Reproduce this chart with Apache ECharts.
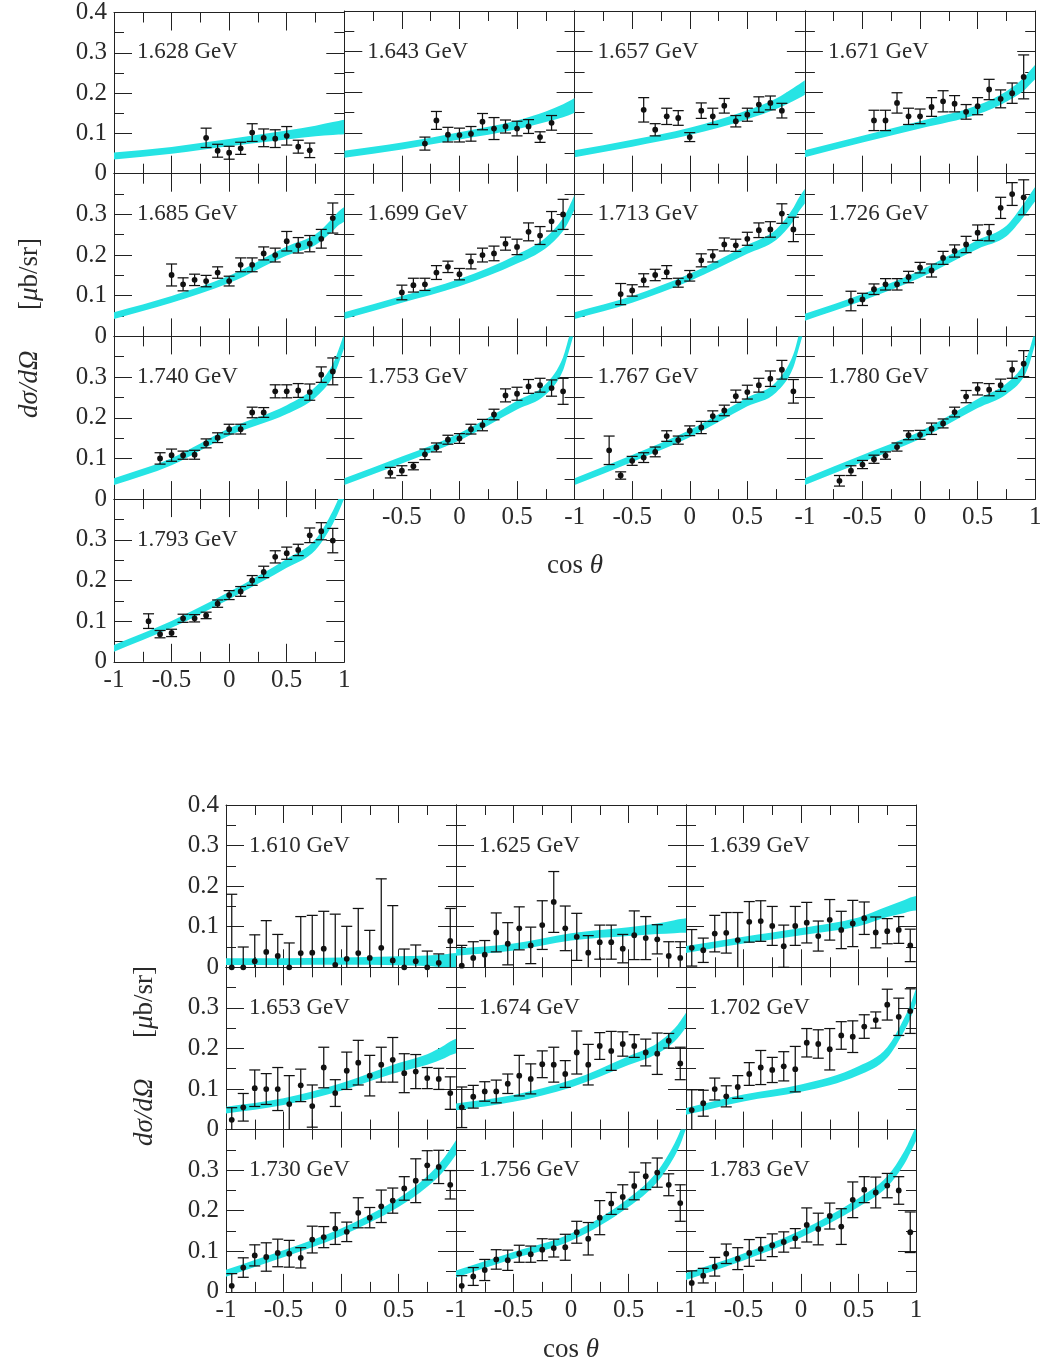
<!DOCTYPE html>
<html><head><meta charset="utf-8">
<script src="https://cdn.jsdelivr.net/npm/echarts@6/dist/echarts.min.js"></script>
<style>html,body{margin:0;padding:0;background:#fff}#c{width:1049px;height:1369px}</style>
</head><body><div id="c"></div>
<script>
// ---------------- DATA ----------------
// Top figure: points (cos theta), values (mub/sr), symmetric errors
const X_1628 = [-0.2,-0.1,0,0.1,0.2,0.3,0.4,0.5,0.6,0.7];
const Y_1628 = [0.089,0.057,0.052,0.063,0.102,0.089,0.087,0.094,0.067,0.058];
const E_1628 = [0.024,0.016,0.016,0.015,0.022,0.022,0.022,0.023,0.016,0.018];

const X_1643 = [-0.3,-0.2,-0.1,0,0.1,0.2,0.3,0.4,0.5,0.6,0.7,0.8];
const Y_1643 = [0.074,0.131,0.096,0.095,0.098,0.128,0.111,0.116,0.111,0.116,0.090,0.125];
const E_1643 = [0.016,0.022,0.018,0.017,0.018,0.020,0.027,0.016,0.018,0.017,0.013,0.018];

const X_1657 = [-0.4,-0.3,-0.2,-0.1,0,0.1,0.2,0.3,0.4,0.5,0.6,0.7,0.8];
const Y_1657 = [0.157,0.108,0.141,0.137,0.090,0.155,0.141,0.167,0.129,0.145,0.170,0.174,0.155];
const E_1657 = [0.030,0.015,0.020,0.018,0.011,0.019,0.020,0.018,0.014,0.016,0.019,0.017,0.018];

const X_1671 = [-0.4,-0.3,-0.2,-0.1,0,0.1,0.2,0.3,0.4,0.5,0.6,0.7,0.8,0.9];
const Y_1671 = [0.131,0.131,0.174,0.141,0.141,0.164,0.178,0.172,0.152,0.166,0.207,0.184,0.198,0.238];
const E_1671 = [0.025,0.025,0.025,0.020,0.018,0.023,0.026,0.020,0.018,0.021,0.025,0.022,0.025,0.054];

const X_1685 = [-0.5,-0.4,-0.3,-0.2,-0.1,0,0.1,0.2,0.3,0.4,0.5,0.6,0.7,0.8,0.9];
const Y_1685 = [0.151,0.128,0.139,0.136,0.157,0.136,0.176,0.176,0.204,0.200,0.234,0.224,0.228,0.240,0.291];
const E_1685 = [0.027,0.016,0.014,0.014,0.014,0.012,0.017,0.017,0.016,0.017,0.024,0.019,0.020,0.023,0.037];

const X_1699 = [-0.5,-0.4,-0.3,-0.2,-0.1,0,0.1,0.2,0.3,0.4,0.5,0.6,0.7,0.8,0.9];
const Y_1699 = [0.108,0.126,0.128,0.157,0.171,0.153,0.184,0.200,0.204,0.228,0.220,0.257,0.248,0.283,0.300];
const E_1699 = [0.018,0.017,0.015,0.017,0.014,0.014,0.018,0.017,0.018,0.016,0.019,0.022,0.022,0.024,0.037];

const X_1713 = [-0.6,-0.5,-0.4,-0.3,-0.2,-0.1,0,0.1,0.2,0.3,0.4,0.5,0.6,0.7,0.8,0.9];
const Y_1713 = [0.104,0.113,0.138,0.151,0.158,0.132,0.149,0.187,0.198,0.226,0.224,0.240,0.261,0.263,0.302,0.263];
const E_1713 = [0.026,0.014,0.016,0.014,0.016,0.011,0.013,0.016,0.015,0.016,0.015,0.016,0.018,0.019,0.024,0.030];

const X_1726 = [-0.6,-0.5,-0.4,-0.3,-0.2,-0.1,0,0.1,0.2,0.3,0.4,0.5,0.6,0.7,0.8,0.9];
const Y_1726 = [0.087,0.091,0.116,0.128,0.128,0.146,0.169,0.162,0.193,0.210,0.226,0.255,0.255,0.316,0.350,0.342];
const E_1726 = [0.024,0.015,0.013,0.014,0.014,0.014,0.013,0.016,0.016,0.015,0.020,0.019,0.020,0.026,0.028,0.043];

const X_1740 = [-0.6,-0.5,-0.4,-0.3,-0.2,-0.1,0,0.1,0.2,0.3,0.4,0.5,0.6,0.7,0.8,0.9];
const Y_1740 = [0.100,0.108,0.108,0.109,0.137,0.151,0.172,0.172,0.213,0.213,0.265,0.265,0.267,0.263,0.306,0.314];
const E_1740 = [0.014,0.015,0.010,0.011,0.011,0.012,0.012,0.012,0.013,0.012,0.016,0.016,0.017,0.020,0.019,0.033];

const X_1753 = [-0.6,-0.5,-0.4,-0.3,-0.2,-0.1,0,0.1,0.2,0.3,0.4,0.5,0.6,0.7,0.8,0.9];
const Y_1753 = [0.065,0.070,0.081,0.110,0.127,0.146,0.149,0.172,0.182,0.208,0.255,0.259,0.277,0.280,0.273,0.265];
const E_1753 = [0.013,0.012,0.009,0.013,0.011,0.011,0.012,0.012,0.014,0.013,0.016,0.016,0.017,0.017,0.020,0.032];

const X_1767 = [-0.7,-0.6,-0.5,-0.4,-0.3,-0.2,-0.1,0,0.1,0.2,0.3,0.4,0.5,0.6,0.7,0.8,0.9];
const Y_1767 = [0.120,0.058,0.094,0.102,0.116,0.155,0.145,0.168,0.176,0.204,0.218,0.253,0.263,0.280,0.296,0.318,0.265];
const E_1767 = [0.035,0.009,0.011,0.012,0.012,0.013,0.010,0.012,0.015,0.013,0.013,0.015,0.017,0.017,0.019,0.023,0.029];

const X_1780 = [-0.7,-0.6,-0.5,-0.4,-0.3,-0.2,-0.1,0,0.1,0.2,0.3,0.4,0.5,0.6,0.7,0.8,0.9];
const Y_1780 = [0.045,0.070,0.085,0.098,0.107,0.128,0.157,0.158,0.173,0.186,0.214,0.252,0.271,0.269,0.280,0.318,0.333];
const E_1780 = [0.013,0.012,0.010,0.010,0.009,0.010,0.011,0.011,0.014,0.011,0.012,0.015,0.015,0.015,0.015,0.021,0.032];

const X_1793 = [-0.7,-0.6,-0.5,-0.4,-0.3,-0.2,-0.1,0,0.1,0.2,0.3,0.4,0.5,0.6,0.7,0.8,0.9];
const Y_1793 = [0.100,0.068,0.071,0.107,0.107,0.114,0.143,0.164,0.173,0.200,0.221,0.258,0.267,0.275,0.311,0.321,0.298];
const E_1793 = [0.018,0.009,0.009,0.010,0.009,0.008,0.009,0.011,0.012,0.012,0.014,0.015,0.015,0.014,0.018,0.021,0.030];

// Bottom figure: common cos theta bins
const X_BOTTOM = [-0.95,-0.85,-0.75,-0.65,-0.55,-0.45,-0.35,-0.25,-0.15,-0.05,0.05,0.15,0.25,0.35,0.45,0.55,0.65,0.75,0.85,0.95];
const Y_1610 = [0.000,0.000,0.015,0.038,0.028,0.000,0.035,0.036,0.046,0.006,0.021,0.035,0.023,0.048,0.017,0.000,0.015,0.000,0.011,0.065];
const E_1610 = [0.180,0.050,0.065,0.077,0.053,0.060,0.090,0.092,0.092,0.125,0.080,0.110,0.068,0.170,0.135,0.045,0.040,0.040,0.022,0.080];
const Y_1625 = [0.004,0.023,0.031,0.086,0.058,0.096,0.054,0.104,0.161,0.096,0.075,0.036,0.062,0.062,0.046,0.079,0.072,0.069,0.028,0.023];
const E_1625 = [0.050,0.040,0.035,0.048,0.052,0.053,0.045,0.060,0.075,0.055,0.058,0.042,0.042,0.042,0.035,0.060,0.053,0.036,0.035,0.040];
const Y_1639 = [0.048,0.042,0.083,0.085,0.067,0.112,0.114,0.102,0.052,0.102,0.110,0.077,0.117,0.092,0.108,0.121,0.086,0.089,0.092,0.054];
const E_1639 = [0.045,0.030,0.045,0.050,0.068,0.050,0.050,0.048,0.052,0.048,0.050,0.037,0.050,0.046,0.057,0.040,0.038,0.031,0.033,0.040];
const Y_1653 = [0.024,0.055,0.102,0.100,0.100,0.063,0.109,0.058,0.153,0.090,0.145,0.165,0.133,0.160,0.172,0.139,0.143,0.127,0.125,0.090];
const E_1653 = [0.030,0.034,0.045,0.038,0.053,0.070,0.040,0.052,0.050,0.033,0.046,0.055,0.050,0.043,0.055,0.048,0.042,0.026,0.026,0.040];
const Y_1674 = [0.055,0.081,0.094,0.094,0.113,0.133,0.125,0.161,0.160,0.137,0.190,0.160,0.206,0.194,0.211,0.206,0.190,0.187,0.219,0.163];
const E_1674 = [0.050,0.028,0.024,0.028,0.024,0.050,0.037,0.033,0.043,0.033,0.053,0.050,0.033,0.048,0.030,0.028,0.033,0.051,0.018,0.040];
const Y_1702 = [0.048,0.065,0.100,0.082,0.105,0.137,0.153,0.147,0.156,0.149,0.214,0.211,0.198,0.232,0.229,0.254,0.270,0.308,0.278,0.292];
const E_1702 = [0.050,0.032,0.027,0.026,0.028,0.028,0.042,0.031,0.036,0.056,0.035,0.035,0.051,0.034,0.039,0.029,0.020,0.038,0.046,0.055];
const Y_1730 = [0.015,0.060,0.090,0.086,0.096,0.094,0.084,0.129,0.135,0.156,0.148,0.195,0.183,0.211,0.225,0.255,0.274,0.312,0.308,0.264];
const E_1730 = [0.030,0.024,0.026,0.035,0.034,0.033,0.025,0.033,0.026,0.039,0.024,0.037,0.025,0.040,0.031,0.029,0.054,0.036,0.041,0.035];
const Y_1756 = [0.015,0.038,0.054,0.080,0.078,0.094,0.093,0.104,0.108,0.110,0.147,0.131,0.183,0.218,0.234,0.261,0.285,0.294,0.264,0.219];
const E_1756 = [0.025,0.022,0.026,0.024,0.025,0.021,0.020,0.027,0.022,0.032,0.027,0.040,0.042,0.027,0.030,0.034,0.033,0.036,0.027,0.045];
const Y_1783 = [0.022,0.040,0.062,0.094,0.082,0.096,0.106,0.115,0.123,0.132,0.165,0.155,0.187,0.161,0.227,0.252,0.245,0.262,0.250,0.147];
const E_1783 = [0.030,0.018,0.023,0.024,0.027,0.033,0.028,0.028,0.025,0.024,0.042,0.039,0.032,0.044,0.044,0.032,0.038,0.030,0.034,0.050];

// Model bands (centre values at BAND_X, half-width BAND_HW)
const BAND_X  = [-1,-0.5,0,0.5,0.75,0.9,0.95,1];
const BAND_HW = [0.0085,0.0085,0.009,0.011,0.013,0.016,0.017,0.018];
const B_1628 = [0.044,0.058,0.077,0.096,0.106,0.112,0.114,0.116];
const B_1643 = [0.048,0.068,0.093,0.120,0.140,0.155,0.161,0.168];
const B_1657 = [0.049,0.075,0.104,0.145,0.172,0.195,0.203,0.212];
const B_1671 = [0.049,0.085,0.120,0.157,0.190,0.220,0.235,0.250];
const B_1685 = [0.051,0.091,0.140,0.210,0.238,0.275,0.290,0.300];
const B_1699 = [0.051,0.091,0.132,0.190,0.230,0.275,0.300,0.330];
const B_1713 = [0.051,0.091,0.145,0.214,0.250,0.300,0.325,0.345];
const B_1726 = [0.047,0.096,0.153,0.226,0.259,0.310,0.330,0.350];
const B_1740 = [0.043,0.092,0.165,0.220,0.263,0.316,0.350,0.390];
const B_1753 = [0.043,0.096,0.153,0.231,0.270,0.333,0.380,0.430];
const B_1767 = [0.043,0.100,0.161,0.239,0.275,0.340,0.390,0.440];
const B_1780 = [0.043,0.100,0.157,0.235,0.271,0.316,0.350,0.400];
const B_1793 = [0.033,0.092,0.163,0.242,0.288,0.355,0.385,0.420];
const B_1610 = [0.014,0.014,0.015,0.016,0.016,0.016,0.017,0.017];
const B_1625 = [0.037,0.050,0.075,0.088,0.095,0.100,0.102,0.103];
const B_1639 = [0.044,0.067,0.088,0.112,0.137,0.150,0.155,0.158];
const B_1653 = [0.048,0.069,0.105,0.153,0.173,0.192,0.200,0.206];
const B_1674 = [0.056,0.077,0.113,0.170,0.200,0.233,0.250,0.270];
const B_1702 = [0.045,0.078,0.102,0.145,0.190,0.260,0.290,0.330];
const B_1730 = [0.046,0.094,0.147,0.220,0.272,0.316,0.335,0.356];
const B_1756 = [0.044,0.090,0.135,0.220,0.284,0.350,0.380,0.420];
const B_1783 = [0.038,0.086,0.143,0.220,0.272,0.332,0.360,0.390];

const TOP_LABELS = ['1.628 GeV','1.643 GeV','1.657 GeV','1.671 GeV','1.685 GeV','1.699 GeV','1.713 GeV','1.726 GeV','1.740 GeV','1.753 GeV','1.767 GeV','1.780 GeV','1.793 GeV'];
const BOTTOM_LABELS = ['1.610 GeV','1.625 GeV','1.639 GeV','1.653 GeV','1.674 GeV','1.702 GeV','1.730 GeV','1.756 GeV','1.783 GeV'];

const TOP_DATA = [
  [X_1628,Y_1628,E_1628,B_1628],[X_1643,Y_1643,E_1643,B_1643],[X_1657,Y_1657,E_1657,B_1657],[X_1671,Y_1671,E_1671,B_1671],
  [X_1685,Y_1685,E_1685,B_1685],[X_1699,Y_1699,E_1699,B_1699],[X_1713,Y_1713,E_1713,B_1713],[X_1726,Y_1726,E_1726,B_1726],
  [X_1740,Y_1740,E_1740,B_1740],[X_1753,Y_1753,E_1753,B_1753],[X_1767,Y_1767,E_1767,B_1767],[X_1780,Y_1780,E_1780,B_1780],
  [X_1793,Y_1793,E_1793,B_1793]
];
const BOTTOM_DATA = [
  [X_BOTTOM,Y_1610,E_1610,B_1610],[X_BOTTOM,Y_1625,E_1625,B_1625],[X_BOTTOM,Y_1639,E_1639,B_1639],
  [X_BOTTOM,Y_1653,E_1653,B_1653],[X_BOTTOM,Y_1674,E_1674,B_1674],[X_BOTTOM,Y_1702,E_1702,B_1702],
  [X_BOTTOM,Y_1730,E_1730,B_1730],[X_BOTTOM,Y_1756,E_1756,B_1756],[X_BOTTOM,Y_1783,E_1783,B_1783]
];

// ---------------- STYLE / LAYOUT ----------------
const FONT = '"Liberation Serif","DejaVu Serif",serif';
const TEXT = '#2a2a2a';
const AX = '#222';
const BAND_COLOR = '#26e4e4';
const FS_TICK = 25;
const FS_LAB = 23;
const FS_TITLE = 27;

const TOP_BOX = {left:114, top:11, w:230.3, h:162.7, cols:4};
const BOT_BOX = {left:226, top:805, w:230, h:162.3, cols:3};

const grids=[], xAxes=[], yAxes=[], series=[], graphics=[];

function xLabelFmt(showMin, showMax){
  return function(v){
    const k = Math.round(v*100);
    if (k === -100 && !showMin) return '';
    if (k === 100 && !showMax) return '';
    return String(k/100);
  };
}
function yLabelFmt(show04){
  return function(v){
    const k = Math.round(v*100);
    if (k === 40 && !show04) return '';
    return String(k/100);
  };
}
function axisBase(gi, pos, isX){
  return {
    type:'value', gridIndex:gi, position:pos,
    min: isX ? -1 : 0, max: isX ? 1 : 0.4, interval: isX ? 0.5 : 0.1,
    axisLine:{show:true, onZero:false, lineStyle:{color:AX, width:1}},
    axisTick:{show:true, inside:true, length:18, lineStyle:{color:AX, width:1}},
    minorTick:{show:true, splitNumber:2, length:10, lineStyle:{color:AX, width:1}},
    splitLine:{show:false}, minorSplitLine:{show:false},
    axisLabel:{show:false}
  };
}

function errRender(params, api){
  const x = api.value(0), y = api.value(1), e = api.value(2);
  const cs = params.coordSys;
  const p = api.coord([x,y]);
  const hi = api.coord([x,y+e])[1], lo = api.coord([x,y-e])[1];
  const top = cs.y, bot = cs.y + cs.height;
  const cap = 5.5;
  const st = {stroke:'#111', lineWidth:1.25};
  const ch = [];
  const hiC = Math.max(hi, top), loC = Math.min(lo, bot);
  ch.push({type:'line', shape:{x1:p[0], y1:hiC, x2:p[0], y2:loC}, style:st});
  if (hi >= top) ch.push({type:'line', shape:{x1:p[0]-cap, y1:hi, x2:p[0]+cap, y2:hi}, style:st});
  if (lo <= bot) ch.push({type:'line', shape:{x1:p[0]-cap, y1:lo, x2:p[0]+cap, y2:lo}, style:st});
  ch.push({type:'circle', shape:{cx:p[0], cy:Math.min(p[1], bot), r:2.9}, style:{fill:'#111'}});
  return {type:'group', children:ch};
}

// monotone cubic (Fritsch-Carlson) tangents, used only to draw a smooth curve through the read points
function tangents(xs, ys){
  const n = xs.length, d = [], m = new Array(n);
  for (let k=0;k<n-1;k++) d.push((ys[k+1]-ys[k])/(xs[k+1]-xs[k]));
  m[0] = d[0]; m[n-1] = d[n-2];
  for (let k=1;k<n-1;k++) m[k] = (d[k-1]*d[k] <= 0) ? 0 : (d[k-1]+d[k])/2;
  for (let k=0;k<n-1;k++){
    if (d[k] === 0){ m[k]=0; m[k+1]=0; continue; }
    const a = m[k]/d[k], b = m[k+1]/d[k], s = a*a+b*b;
    if (s > 9){ const t = 3/Math.sqrt(s); m[k]=t*a*d[k]; m[k+1]=t*b*d[k]; }
  }
  return m;
}
function curveSegs(xs, ys, api, reverse){
  const m = tangents(xs, ys);
  const n = xs.length, segs = [];
  const idx = reverse ? [...Array(n).keys()].reverse() : [...Array(n).keys()];
  for (let j=0;j<n-1;j++){
    const a = idx[j], b = idx[j+1];
    const h = (xs[b]-xs[a])/3;
    const c1 = api.coord([xs[a]+h, ys[a]+m[a]*h]);
    const c2 = api.coord([xs[b]-h, ys[b]-m[b]*h]);
    const pb = api.coord([xs[b], ys[b]]);
    segs.push('C'+c1[0].toFixed(2)+' '+c1[1].toFixed(2)+' '+c2[0].toFixed(2)+' '+c2[1].toFixed(2)+' '+pb[0].toFixed(2)+' '+pb[1].toFixed(2));
  }
  return segs.join(' ');
}
function bandRenderFactory(B){
  const up = BAND_X.map((x,k)=>B[k]+BAND_HW[k]);
  const lo = BAND_X.map((x,k)=>B[k]-BAND_HW[k]);
  return function(params, api){
    if (params.dataIndex !== 0) return null;
    const n = BAND_X.length;
    const p0 = api.coord([BAND_X[0], up[0]]);
    const pl = api.coord([BAND_X[n-1], lo[n-1]]);
    const path = 'M'+p0[0]+' '+p0[1]+' '+curveSegs(BAND_X, up, api, false)+
                 ' L'+pl[0]+' '+pl[1]+' '+curveSegs(BAND_X, lo, api, true)+' Z';
    const cs = params.coordSys;
    return {type:'group', children:[{type:'path', shape:{pathData:path}, style:{fill:BAND_COLOR, stroke:null}}],
            clipPath:{type:'rect', shape:{x:cs.x, y:cs.y, width:cs.width, height:cs.height}}};
  };
}

function addPanel(data, label, box, idx, opt){
  const col = idx % box.cols, row = Math.floor(idx / box.cols);
  const gx = box.left + col*box.w, gy = box.top + row*box.h;
  const gi = grids.length;
  grids.push({left:gx, top:gy, width:box.w, height:box.h});
  const xb = axisBase(gi,'bottom',true);
  if (opt.xLabels) xb.axisLabel = {show:true, margin:6, color:TEXT, fontFamily:FONT, fontSize:FS_TICK,
      formatter:xLabelFmt(opt.showMin, opt.showMax), showMinLabel:true, showMaxLabel:true, hideOverlap:false};
  const xi = xAxes.length;
  xAxes.push(xb); xAxes.push(axisBase(gi,'top',true));
  const yb = axisBase(gi,'left',false);
  if (opt.yLabels) yb.axisLabel = {show:true, margin:7, color:TEXT, fontFamily:FONT, fontSize:FS_TICK,
      formatter:yLabelFmt(opt.show04), showMinLabel:true, showMaxLabel:true, hideOverlap:false};
  const yi = yAxes.length;
  yAxes.push(yb); yAxes.push(axisBase(gi,'right',false));

  const [X, Y, E, B] = data;
  series.push({type:'custom', xAxisIndex:xi, yAxisIndex:yi, z:1, silent:true,
    renderItem:bandRenderFactory(B), encode:{x:0, y:1},
    data: BAND_X.map((x,k)=>[x, B[k]])});
  series.push({type:'custom', xAxisIndex:xi, yAxisIndex:yi, z:3, silent:true,
    renderItem:errRender, encode:{x:0, y:1},
    data: X.map((x,k)=>[x, Y[k], E[k]])});

  graphics.push({type:'text', x: gx+23, y: gy + box.h*0.25, z:10,
    style:{text:label, fontFamily:FONT, fontSize:FS_LAB, fill:TEXT,
      align:'left', verticalAlign:'middle', textAlign:'left', textVerticalAlign:'middle'}});
}

// top figure
TOP_DATA.forEach((d,i)=>{
  const col = i % 4, row = Math.floor(i/4);
  const opt = {yLabels: col===0, show04: row===0, xLabels:false, showMin:false, showMax:false};
  if (i===9)  {opt.xLabels=true; opt.showMin=false; opt.showMax=false;}
  if (i===10) {opt.xLabels=true; opt.showMin=true;  opt.showMax=false;}
  if (i===11) {opt.xLabels=true; opt.showMin=true;  opt.showMax=true;}
  if (i===12) {opt.xLabels=true; opt.showMin=true;  opt.showMax=true;}
  addPanel(d, TOP_LABELS[i], TOP_BOX, i, opt);
});
// bottom figure
BOTTOM_DATA.forEach((d,i)=>{
  const col = i % 3, row = Math.floor(i/3);
  const opt = {yLabels: col===0, show04: row===0, xLabels: row===2, showMin:true, showMax: col===2};
  addPanel(d, BOTTOM_LABELS[i], BOT_BOX, i, opt);
});

// axis titles
const richT = {i:{fontStyle:'italic', fontFamily:FONT, fontSize:FS_TITLE, fill:TEXT, color:TEXT},
               n:{fontFamily:FONT, fontSize:FS_TITLE, fill:TEXT, color:TEXT}};
function yTitle(cx, cy){
  return {type:'text', x:cx, y:cy, rotation:Math.PI/2, z:10,
    style:{text:'{i|dσ/dΩ}{n|      [}{i|μ}{n|b/sr]}', rich:richT, fontFamily:FONT, fontSize:FS_TITLE, fill:TEXT,
      align:'center', verticalAlign:'middle', textAlign:'center', textVerticalAlign:'middle'}};
}
function xTitle(cx, cy){
  return {type:'text', x:cx, y:cy, z:10,
    style:{text:'{n|cos }{i|θ}', rich:richT, fontFamily:FONT, fontSize:FS_TITLE, fill:TEXT,
      align:'center', verticalAlign:'middle', textAlign:'center', textVerticalAlign:'middle'}};
}
graphics.push(yTitle(30, 328));
graphics.push(yTitle(145, 1056));
graphics.push(xTitle(575, 566));
graphics.push(xTitle(571, 1350));

const chart = echarts.init(document.getElementById('c'), null, {renderer:'canvas'});
chart.setOption({
  animation:false,
  backgroundColor:'#ffffff',
  grid:grids, xAxis:xAxes, yAxis:yAxes, series:series, graphic:graphics
});
</script></body></html>
